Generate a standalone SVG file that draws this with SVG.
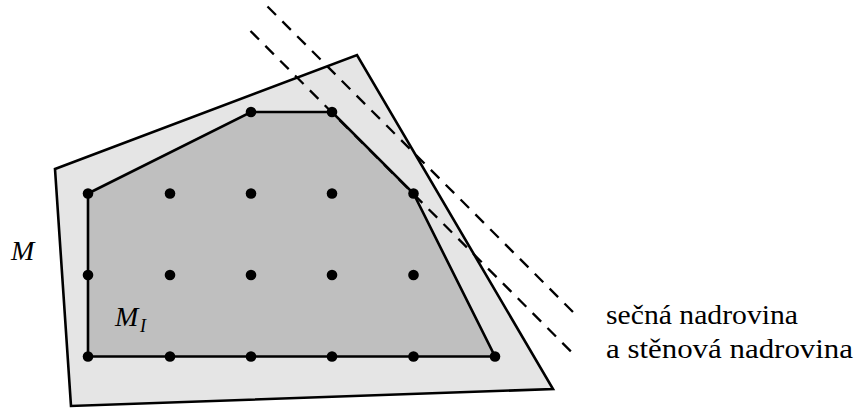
<svg xmlns="http://www.w3.org/2000/svg" width="861" height="410" viewBox="0 0 861 410">
<style>
.poly{stroke:#000;stroke-width:2.6;stroke-linejoin:miter}
.outer{fill:#e5e5e5}
.inner{fill:#bfbfbf}
.dash{stroke:#000;stroke-width:2.3;fill:none;stroke-dasharray:12 9}
.lbl{fill:#000;font-family:"Liberation Serif","DejaVu Serif",serif}
</style>
<defs>
<circle id="pt" r="5.3" fill="#000"/>
</defs>
<g id="outer-M">
<polygon class="poly outer" points="55,169 357,55 553,389 71,406"/>
</g>
<g id="inner-MI">
<polygon class="poly inner" points="88,193.5 251,112 332,112 413.5,193.5 495,356.5 88,356.5"/>
</g>
<g id="connectors">
<line class="dash" x1="267.5" y1="6.5" x2="577" y2="316"/>
<line class="dash" x1="250.5" y1="31" x2="577" y2="357.5"/>
</g>
<g id="lattice-points">
<use href="#pt" x="251" y="112"/><use href="#pt" x="332" y="112"/>
<use href="#pt" x="88" y="193.5"/><use href="#pt" x="170" y="193.5"/><use href="#pt" x="251" y="193.5"/><use href="#pt" x="332" y="193.5"/><use href="#pt" x="413.5" y="193.5"/>
<use href="#pt" x="88" y="275"/><use href="#pt" x="170" y="275"/><use href="#pt" x="251" y="275"/><use href="#pt" x="332" y="275"/><use href="#pt" x="413.5" y="275"/>
<use href="#pt" x="88" y="356.5"/><use href="#pt" x="170" y="356.5"/><use href="#pt" x="251" y="356.5"/><use href="#pt" x="332" y="356.5"/><use href="#pt" x="413.5" y="356.5"/><use href="#pt" x="495" y="356.5"/>
</g>
<g id="label-M">
<text class="lbl" font-style="italic" x="11" y="260" font-size="28">M</text>
</g>
<g id="label-MI">
<text class="lbl" font-style="italic" x="115" y="326" font-size="28">M</text>
<text class="lbl" font-style="italic" x="140" y="331.5" font-size="18">I</text>
</g>
<g id="label-planes">
<text class="lbl" x="606" y="324" font-size="28" textLength="192" lengthAdjust="spacingAndGlyphs">sečná nadrovina</text>
<text class="lbl" x="606" y="358" font-size="28" textLength="247" lengthAdjust="spacingAndGlyphs">a stěnová nadrovina</text>
</g>
</svg>
